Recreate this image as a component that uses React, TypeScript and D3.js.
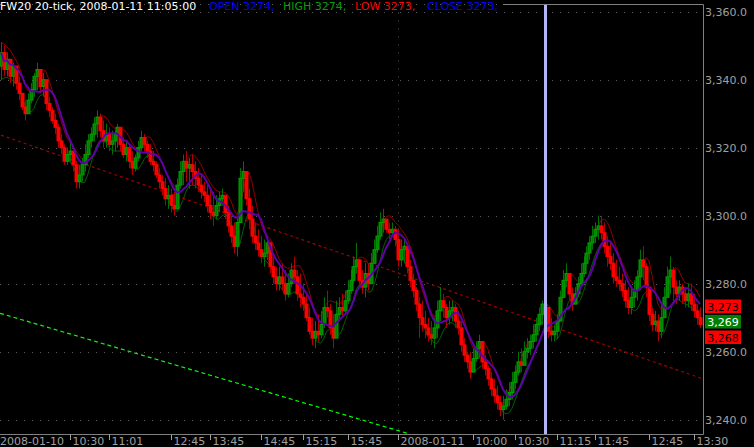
import React from 'react';
import * as d3 from 'd3';

// 20-tick bars (price in index points)
const highs = [
  3351, 3350, 3348, 3346, 3345, 3344, 3341, 3336, 3334, 3336,
  3339, 3342, 3345, 3343, 3342, 3339, 3335, 3332, 3330, 3327,
  3324, 3321, 3320, 3322, 3319, 3316, 3315, 3317, 3321, 3324,
  3326, 3329, 3331, 3330, 3328, 3327, 3326, 3325, 3325, 3327,
  3326, 3323, 3322, 3321, 3319, 3318, 3322, 3325, 3324, 3322,
  3321, 3319, 3316, 3314, 3312, 3311, 3309, 3308, 3307, 3311,
  3316, 3318, 3319, 3317, 3318, 3316, 3314, 3312, 3310, 3309,
  3308, 3307, 3306, 3307, 3308, 3306, 3303, 3300, 3298, 3300,
  3314, 3316, 3313, 3308, 3303, 3298, 3296, 3294, 3293, 3294,
  3292, 3288, 3285, 3285, 3286, 3284, 3283, 3286, 3288, 3284,
  3283, 3280, 3277, 3273, 3270, 3269, 3271, 3272, 3276, 3278,
  3274, 3271, 3275, 3276, 3277, 3278, 3281, 3284, 3288, 3292,
  3287, 3284, 3286, 3286, 3289, 3293, 3297, 3301, 3302, 3299,
  3298, 3298, 3297, 3296, 3293, 3293, 3291, 3287, 3283, 3279,
  3276, 3275, 3272, 3270, 3269, 3270, 3275, 3279, 3277, 3274,
  3275, 3275, 3274, 3272, 3269, 3264, 3260, 3260, 3261, 3263,
  3265, 3262, 3259, 3256, 3254, 3252, 3250, 3247, 3247, 3249,
  3251, 3254, 3256, 3260, 3261, 3263, 3264, 3265, 3268, 3270,
  3273, 3275, 3274, 3272, 3270, 3268, 3271, 3278, 3284, 3286,
  3283, 3279, 3279, 3282, 3286, 3288, 3291, 3294, 3297, 3298,
  3300, 3300, 3298, 3294, 3292, 3289, 3287, 3285, 3283, 3281,
  3279, 3279, 3281, 3284, 3290, 3291, 3286, 3278, 3273, 3272,
  3271, 3274, 3279, 3285, 3288, 3285, 3281, 3281, 3280, 3279,
  3280, 3280, 3277, 3274, 3273,
];

const lows = [
  3340, 3341, 3341, 3339, 3338, 3337, 3334, 3331, 3328, 3330,
  3333, 3335, 3337, 3336, 3335, 3331, 3329, 3327, 3324, 3320,
  3318, 3315, 3315, 3316, 3313, 3308, 3308, 3310, 3313, 3317,
  3320, 3322, 3323, 3323, 3320, 3320, 3319, 3318, 3319, 3320,
  3319, 3317, 3316, 3314, 3312, 3313, 3316, 3319, 3319, 3317,
  3315, 3313, 3311, 3308, 3306, 3303, 3302, 3301, 3300, 3303,
  3308, 3309, 3310, 3308, 3309, 3308, 3307, 3305, 3304, 3301,
  3299, 3297, 3299, 3301, 3303, 3299, 3295, 3292, 3289, 3288,
  3303, 3307, 3303, 3296, 3292, 3290, 3288, 3286, 3285, 3287,
  3283, 3280, 3278, 3278, 3278, 3275, 3276, 3279, 3280, 3275,
  3273, 3272, 3269, 3265, 3262, 3261, 3263, 3264, 3267, 3270,
  3265, 3261, 3267, 3269, 3270, 3271, 3274, 3277, 3280, 3283,
  3279, 3277, 3276, 3278, 3281, 3286, 3289, 3293, 3295, 3295,
  3293, 3294, 3291, 3285, 3285, 3286, 3283, 3279, 3276, 3272,
  3264, 3266, 3264, 3263, 3262, 3261, 3264, 3269, 3270, 3267,
  3268, 3269, 3267, 3265, 3260, 3257, 3255, 3252, 3254, 3257,
  3258, 3255, 3253, 3250, 3247, 3245, 3243, 3241, 3240, 3243,
  3244, 3246, 3249, 3253, 3254, 3256, 3258, 3259, 3261, 3263,
  3266, 3268, 3273, 3264, 3263, 3263, 3264, 3270, 3277, 3279,
  3275, 3272, 3274, 3276, 3279, 3282, 3285, 3287, 3290, 3292,
  3293, 3293, 3289, 3285, 3284, 3280, 3279, 3278, 3276, 3273,
  3271, 3271, 3273, 3275, 3278, 3281, 3276, 3269, 3266, 3266,
  3263, 3264, 3272, 3276, 3277, 3275, 3274, 3275, 3274, 3273,
  3273, 3272, 3270, 3268, 3267,
];

const closes = [
  3348, 3343, 3346, 3341, 3344, 3339, 3336, 3332, 3330, 3334,
  3337, 3341, 3343, 3338, 3340, 3333, 3331, 3328, 3326, 3322,
  3320, 3316, 3318, 3319, 3315, 3310, 3312, 3315, 3318, 3322,
  3324, 3327, 3329, 3325, 3322, 3324, 3321, 3322, 3324, 3326,
  3321, 3318, 3320, 3316, 3314, 3317, 3320, 3323, 3321, 3319,
  3316, 3315, 3312, 3310, 3308, 3305, 3306, 3303, 3302, 3309,
  3313, 3316, 3314, 3315, 3313, 3311, 3309, 3307, 3306, 3303,
  3301, 3300, 3303, 3305, 3306, 3301, 3297, 3294, 3291, 3298,
  3311, 3313, 3305, 3299, 3294, 3292, 3290, 3288, 3289, 3292,
  3285, 3282, 3280, 3282, 3280, 3277, 3280, 3284, 3282, 3277,
  3276, 3274, 3270, 3266, 3264, 3266, 3265, 3268, 3273, 3272,
  3267, 3264, 3271, 3273, 3272, 3275, 3278, 3281, 3285, 3287,
  3281, 3279, 3283, 3280, 3286, 3290, 3294, 3298, 3299, 3296,
  3295, 3296, 3293, 3287, 3290, 3291, 3285, 3281, 3278, 3274,
  3270, 3268, 3267, 3265, 3264, 3267, 3272, 3275, 3273, 3270,
  3272, 3273, 3269, 3267, 3262, 3259, 3257, 3254, 3258, 3261,
  3263, 3257, 3255, 3252, 3249, 3247, 3245, 3243, 3244, 3246,
  3248, 3251, 3254, 3257, 3256, 3260, 3261, 3263, 3265, 3268,
  3271, 3274, 3273, 3266, 3265, 3266, 3269, 3276, 3281, 3283,
  3277, 3274, 3277, 3280, 3283, 3286, 3289, 3292, 3294, 3296,
  3297, 3295, 3291, 3288, 3286, 3282, 3281, 3280, 3278, 3275,
  3273, 3276, 3278, 3282, 3287, 3285, 3279, 3271, 3268, 3269,
  3266, 3270, 3276, 3282, 3284, 3279, 3277, 3279, 3277, 3275,
  3277, 3274, 3272, 3270, 3268,
];
const firstOpen = 3344;

const timeIdx = [0, 23, 36, 57, 70, 87, 101, 116, 133, 158, 172, 186, 199, 217, 232];
const timeLabels = ['2008-01-10', '10:30', '11:01', '12:45', '13:45', '14:45', '15:15', '15:45',
  '2008-01-11', '10:00', '10:30', '11:15', '11:45', '12:45', '13:30'];
const dayBreakIdx = 133;

const priceTicks = [3240, 3260, 3280, 3300, 3320, 3340, 3360];
const tagValues = [3273, 3269, 3268];
const tagFill = ['#ff0000', '#008000', '#ff0000'];
const tagInk = ['#000000', '#ffffff', '#000000'];

const symbol = 'FW20 20-tick';
const cursorIdx = 182;
const cursorTime = '2008-01-11 11:05:00';

// trend lines as [bar index, price]
const redTrend: [number, number][] = [[0, 3323.7], [234, 3252]];
const greenTrend: [number, number][] = [[0, 3271.3], [136, 3236]];

const W = 754;
const H = 447;
const plotRight = 703.5;
const plotTop = 4.5;
const plotBottom = 434.5;

const sma = (arr: number[], n: number) =>
  arr.map((_, i) => {
    const s = arr.slice(Math.max(0, i - n + 1), i + 1);
    return d3.mean(s) as number;
  });

const App: React.FC = () => {
  const n = closes.length;
  const x = d3.scaleLinear().domain([0, n - 1]).range([1, 700]);
  const y = d3.scaleLinear().domain([3240, 3360]).range([419.7, 11.7]);

  const bars = closes.map((c, i) => {
    const o = i === 0 ? firstOpen : closes[i - 1];
    return {
      i, o, c,
      h: Math.max(highs[i], o, c),
      l: Math.min(lows[i], o, c),
    };
  });

  const ma = sma(closes, 8);
  const upper = sma(bars.map(b => b.h), 4);
  const lower = sma(bars.map(b => b.l), 4);

  const line = d3.line<number>().x((_, i) => x(i)).y(v => y(v));
  const fmtAxis = d3.format(',.1f');
  const fmtTag = d3.format(',');

  const cur = bars[cursorIdx];
  const cx = Math.round(x(cursorIdx));

  // stack price tags so they don't overlap
  let prevBottom = -Infinity;
  const tags = tagValues.map((v, k) => {
    const top = Math.max(y(v) - 8, prevBottom + 2);
    prevBottom = top + 13.5;
    return { v, top, fill: tagFill[k], ink: tagInk[k] };
  });

  const header = [
    { x: 0, text: `${symbol}, ${cursorTime}`, color: '#ffffff' },
    { x: 209, text: `OPEN ${cur.o},`, color: '#0000ff' },
    { x: 283, text: `HIGH ${cur.h},`, color: '#00a000' },
    { x: 355, text: `LOW ${cur.l},`, color: '#ff0000' },
    { x: 427, text: `CLOSE ${cur.c},`, color: '#0000ff' },
  ];

  const font = "'DejaVu Sans', sans-serif";

  return (
    <div style={{ position: 'fixed', left: 0, top: 0, width: W, height: H, background: '#000' }}>
      <svg width={W} height={H} style={{ display: 'block' }} fontFamily={font}>
        <rect width={W} height={H} fill="#000" />

        {/* grid */}
        {priceTicks.map(p => (
          <line key={p} x1={0} x2={plotRight} y1={Math.round(y(p)) + 0.5} y2={Math.round(y(p)) + 0.5}
            stroke="#5a5a5a" strokeDasharray="1 7" />
        ))}
        <line x1={Math.round(x(dayBreakIdx)) + 0.5} x2={Math.round(x(dayBreakIdx)) + 0.5}
          y1={plotTop} y2={plotBottom} stroke="#5a5a5a" strokeDasharray="1 7" />

        <clipPath id="plot">
          <rect x={0} y={plotTop} width={plotRight} height={plotBottom - plotTop} />
        </clipPath>
        <g clipPath="url(#plot)">
          {/* trend lines */}
          <line x1={x(redTrend[0][0])} y1={y(redTrend[0][1])} x2={x(redTrend[1][0]) + 3} y2={y(redTrend[1][1])}
            stroke="#a00000" strokeWidth={1.2} strokeDasharray="3 3" />
          <line x1={0} y1={y(greenTrend[0][1])} x2={x(greenTrend[1][0])} y2={y(greenTrend[1][1])}
            stroke="#00ff00" strokeWidth={1.2} strokeDasharray="4 3" />

          {/* envelopes */}
          <path d={line(upper) || ''} fill="none" stroke="#900000" strokeWidth={1} />
          <path d={line(lower) || ''} fill="none" stroke="#006000" strokeWidth={1} />

          {/* candles */}
          {bars.map(b => {
            const px = Math.round(x(b.i));
            const up = b.c >= b.o;
            const top = y(Math.max(b.o, b.c));
            const hgt = Math.max(1, Math.abs(y(b.o) - y(b.c)));
            return (
              <g key={b.i}>
                <line x1={px + 0.5} x2={px + 0.5} y1={y(b.h)} y2={y(b.l)}
                  stroke={up ? '#007000' : '#b00000'} strokeWidth={1} />
                <rect x={px - 1} y={top} width={3} height={hgt}
                  fill={up ? '#008000' : '#ff0000'} stroke={up ? '#00a000' : '#ff0000'} strokeWidth={1} />
              </g>
            );
          })}

          <path d={line(ma) || ''} fill="none" stroke="#6000a8" strokeWidth={2} />
        </g>

        {/* cursor */}
        <rect x={cx - 1} y={plotTop} width={3} height={plotBottom - plotTop} fill="#b4b4f8" />

        {/* frame */}
        <line x1={0} x2={503} y1={plotTop} y2={plotTop} stroke="#5a5a5a" strokeDasharray="1 7" />
        <line x1={503} x2={plotRight} y1={plotTop} y2={plotTop} stroke="#808080" />
        <line x1={plotRight} x2={plotRight} y1={plotTop} y2={plotBottom} stroke="#808080" />
        <line x1={0} x2={plotRight} y1={plotBottom} y2={plotBottom} stroke="#808080" />

        {/* header */}
        {header.map(h => (
          <text key={h.x} x={h.x} y={9.5} fontSize={11} fill={h.color}>{h.text}</text>
        ))}

        {/* price axis */}
        {priceTicks.map(p => (
          <text key={p} x={705} y={y(p) + 4} fontSize={11} fill="#a0a0a0">{fmtAxis(p)}</text>
        ))}

        {/* price tags */}
        {tags.map(t => (
          <g key={t.v}>
            <rect x={705} y={t.top} width={36} height={13.5} fill={t.fill} />
            <text x={723} y={t.top + 11} fontSize={11} fill={t.ink} textAnchor="middle">{fmtTag(t.v)}</text>
          </g>
        ))}

        {/* time axis */}
        {timeIdx.map((ti, k) => {
          const tx = Math.round(x(ti)) + 0.5;
          return (
            <g key={k}>
              {k > 0 && <line x1={tx} x2={tx} y1={plotBottom} y2={440} stroke="#a0a0a0" />}
              <text x={k === 0 ? 0 : tx + 2} y={445} fontSize={11} fill="#a0a0a0">{timeLabels[k]}</text>
            </g>
          );
        })}
      </svg>
    </div>
  );
};

export default App;
